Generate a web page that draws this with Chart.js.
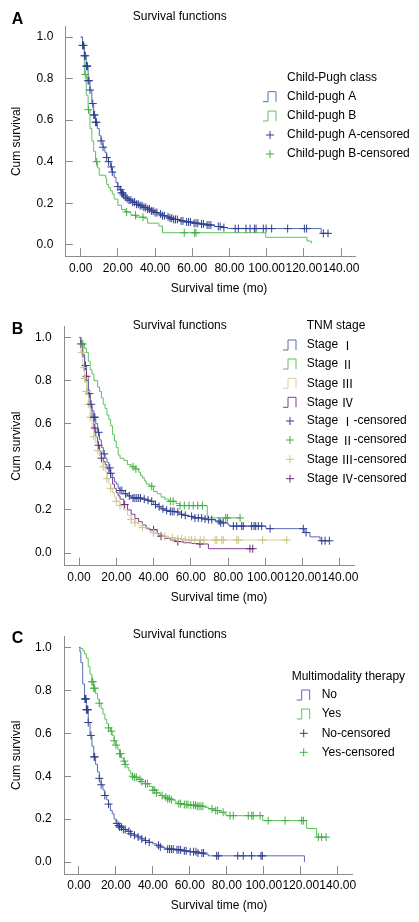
<!DOCTYPE html>
<html><head><meta charset="utf-8">
<script src="https://cdn.jsdelivr.net/npm/chart.js@4.4.1/dist/chart.umd.min.js"></script>
<style>
html,body{margin:0;padding:0;background:#fff;width:419px;height:922px;overflow:hidden}
canvas{position:absolute;left:0}
</style></head><body>
<canvas id="cA" style="top:0px" width="419" height="300"></canvas>
<canvas id="cB" style="top:300px" width="419" height="310"></canvas>
<canvas id="cC" style="top:610px" width="419" height="312"></canvas>
<script>
// ---------- tick values / labels ----------
const xTickValues = [0, 20, 40, 60, 80, 100, 120, 140];
const xTickLabels = ['0.00', '20.00', '40.00', '60.00', '80.00', '100.00', '120.00', '140.00'];
const yTickValues = [0, 0.2, 0.4, 0.6, 0.8, 1.0];
const yTickLabels = ['0.0', '0.2', '0.4', '0.6', '0.8', '1.0'];

// ---------- Panel A: Child-Pugh class ----------
const cpA_time = [0,1,2,3,4,5,6,7,8,9,10,11,12,13,14,15,16,17,18,19,20,21,22,23,24,25,26,28,30,32,34,36,38,40,42,44,46,48,50,53,56,60,64,68,72,76,79,129.3,134];
const cpA_surv = [1,0.96,0.91,0.86,0.79,0.745,0.68,0.625,0.59,0.56,0.525,0.5,0.47,0.445,0.42,0.40,0.375,0.35,0.325,0.30,0.28,0.265,0.25,0.24,0.23,0.222,0.215,0.205,0.195,0.188,0.18,0.172,0.163,0.155,0.148,0.14,0.134,0.128,0.122,0.115,0.11,0.104,0.10,0.095,0.088,0.083,0.078,0.055,0.055];
const cpB_time = [0,1,2,3,4,5,6,7,8,9,10,13.5,14,15,16,17,18,20,22,24,27,30,34,36,42,44,99.5,121.7,124];
const cpB_surv = [1,0.97,0.82,0.72,0.65,0.56,0.50,0.45,0.40,0.37,0.335,0.32,0.29,0.275,0.26,0.245,0.22,0.19,0.17,0.158,0.142,0.133,0.128,0.104,0.09,0.058,0.036,0.018,0.006];
const cpA_censTime = [1,1.5,2,2.5,3,3.3,3.6,4,4.5,5,6.5,7,7.5,8,8.5,11,12,14,15,16.5,17,20,21.5,22,22.5,23,24,25,26,27,28,29,30,31,32,33,34,35,36,37,38,39,40,41,43,44,45,47,48,49,50,51,52,54,55,57,58,59,61,62,63,65,66,68,69,70,74,75,77,83.1,84.8,88.9,91.1,93.4,94.3,98.2,99.7,102.7,111.3,120.3,121.5,130.5,133];
const cpA_censSurv = [0.96,0.96,0.91,0.91,0.86,0.86,0.86,0.79,0.79,0.745,0.68,0.625,0.625,0.59,0.59,0.50,0.47,0.42,0.40,0.375,0.35,0.28,0.265,0.25,0.25,0.24,0.23,0.222,0.215,0.215,0.205,0.205,0.195,0.195,0.188,0.188,0.18,0.18,0.172,0.172,0.163,0.163,0.155,0.155,0.148,0.14,0.14,0.134,0.128,0.128,0.122,0.122,0.122,0.115,0.115,0.11,0.11,0.11,0.104,0.104,0.104,0.10,0.10,0.095,0.095,0.095,0.088,0.088,0.083,0.078,0.078,0.078,0.078,0.078,0.078,0.078,0.078,0.078,0.078,0.078,0.078,0.055,0.055];
const cpB_censTime = [2.5,4.2,8.6,24.7,29.5,33.5,55.7,61.3,62];
const cpB_censSurv = [0.82,0.65,0.40,0.158,0.142,0.133,0.058,0.058,0.058];

// ---------- Panel B: TNM stage ----------
const s1_time = [0,1,2,3,4,5,6,7,8,9,10,11,12,13,14,15,16,17,18,19,20,21,22,24,26,28,34,36,38,40,42,44,46,48,52,54,56,58,61,66,69,73,76,80,81,100.3,120.8,123.9,129.3,134.3];
const s1_surv = [1,0.97,0.91,0.85,0.80,0.74,0.69,0.66,0.63,0.60,0.56,0.525,0.49,0.46,0.44,0.42,0.395,0.37,0.35,0.33,0.32,0.30,0.29,0.275,0.265,0.255,0.25,0.245,0.24,0.225,0.215,0.205,0.198,0.193,0.19,0.18,0.175,0.17,0.163,0.158,0.155,0.148,0.14,0.13,0.125,0.113,0.095,0.075,0.057,0.057];
const s2_time = [0,1,2,3,4,5,6,7,8,10,11,12,13,14,15,16,17,18,19,20,21,22,24,26,28,30,32,33,34,35,36,38,40,42,44,46,48,52,54,68.8,86.5];
const s2_surv = [1,0.98,0.97,0.95,0.93,0.89,0.85,0.83,0.80,0.77,0.75,0.72,0.69,0.67,0.64,0.62,0.59,0.55,0.52,0.49,0.455,0.44,0.43,0.41,0.40,0.39,0.375,0.36,0.35,0.335,0.32,0.31,0.285,0.275,0.26,0.25,0.24,0.23,0.22,0.163,0.163];
const s3_time = [0,1,2,3,4,5,6,7,8,9,10,11,12,13,14,15,16,17,18,19,20,22,24,26,28,30,32,34,36,38,40,42,45,48,52,56,112.3];
const s3_surv = [1,0.93,0.86,0.81,0.75,0.69,0.63,0.575,0.54,0.51,0.475,0.45,0.42,0.40,0.38,0.345,0.32,0.30,0.28,0.26,0.24,0.22,0.20,0.175,0.155,0.14,0.127,0.118,0.11,0.10,0.093,0.085,0.078,0.07,0.066,0.06,0.06];
const s4_time = [0,1,2,3,4,5,6,7,8,9,10,11,12,13,14,15,16,17,18,19,20,21,22,24,26,28,30,32,34,36,38,42,43,46,49,52,56,60,64,69.4,93.5];
const s4_surv = [1,0.97,0.92,0.87,0.82,0.74,0.68,0.63,0.58,0.54,0.50,0.47,0.44,0.425,0.41,0.39,0.37,0.35,0.32,0.30,0.28,0.265,0.25,0.225,0.20,0.18,0.16,0.145,0.13,0.115,0.108,0.09,0.078,0.068,0.06,0.053,0.048,0.044,0.042,0.02,0.02];
const s1_censTime = [6.5,8,8.5,10.5,13.5,16.5,17,22,23,25,27,29,30,31,32,33,35,37,39,41,43,45,47,49,50,51,53,55,57,60.4,62.2,64,65.8,67.6,69.4,71.2,75.1,76,77.4,82.8,84.6,87.3,88.1,92.6,93.9,94.8,96.2,98,102.5,120.3,121.8,130.2,132,134.3];
const s1_censSurv = [0.69,0.63,0.63,0.56,0.46,0.395,0.37,0.29,0.29,0.275,0.265,0.255,0.255,0.255,0.255,0.255,0.25,0.245,0.24,0.225,0.215,0.205,0.198,0.193,0.193,0.193,0.19,0.18,0.175,0.17,0.163,0.163,0.163,0.158,0.155,0.155,0.148,0.14,0.14,0.125,0.125,0.125,0.125,0.125,0.125,0.125,0.125,0.125,0.113,0.113,0.095,0.057,0.057,0.057];
const s2_censTime = [2,29,30.5,39,49,50.5,54.2,56.5,59,61.3,63.7,66.2,78.7,79.6,86.4];
const s2_censSurv = [0.97,0.40,0.39,0.31,0.24,0.24,0.22,0.22,0.22,0.22,0.22,0.22,0.163,0.163,0.163];
const s3_censTime = [1.5,2.5,3,3.5,4,4.5,5,6,8,10,13,15,17,20,22,28,30,34,40,46,50,53,55,57,59,60.4,62.2,65,67,73,73.9,76.6,77.4,84.6,85.5,98.5,111.4];
const s3_censSurv = [0.93,0.86,0.81,0.81,0.75,0.75,0.69,0.63,0.54,0.475,0.40,0.345,0.30,0.24,0.22,0.155,0.14,0.118,0.093,0.078,0.07,0.066,0.066,0.06,0.06,0.06,0.06,0.06,0.06,0.06,0.06,0.06,0.06,0.06,0.06,0.06,0.06];
const s4_censTime = [1,3.5,4,5.5,8.5,10.5,12,24.5,40,44,53,64.9,91.7,93.2];
const s4_censSurv = [0.97,0.87,0.82,0.74,0.58,0.50,0.44,0.225,0.108,0.078,0.053,0.042,0.02,0.02];

// ---------- Panel C: Multimodality therapy ----------
const no_time = [0,0.5,1,2,3,4,5,6,7,8,9,10,11,12,13,14,15,16,17,18,19,20,21,22,24,26,28,30,32,34,36,38,40,42,44,46,48,52,56,60,64,68,70,122];
const no_surv = [1,0.98,0.93,0.83,0.76,0.71,0.65,0.59,0.54,0.49,0.455,0.42,0.39,0.36,0.335,0.31,0.29,0.27,0.24,0.225,0.20,0.18,0.17,0.163,0.152,0.143,0.132,0.125,0.117,0.108,0.10,0.092,0.085,0.078,0.07,0.065,0.06,0.057,0.052,0.048,0.042,0.036,0.029,0];
const yes_time = [0,1,2,3,4,5,6,7,8,9,10,11,12,13,14,15,16,17,18,19,20,21,22,23,24,25,26,27,28,29,30,32,34,36,38,40,42,44,46,48,50,52,54,57,60,64,68,70,73,76,79,80,99.4,123.2,128.6,133.7];
const yes_surv = [1,0.995,0.985,0.97,0.95,0.91,0.875,0.84,0.81,0.785,0.76,0.74,0.715,0.69,0.665,0.645,0.625,0.61,0.59,0.565,0.545,0.525,0.505,0.485,0.47,0.455,0.44,0.425,0.41,0.40,0.395,0.385,0.375,0.365,0.352,0.335,0.322,0.31,0.302,0.295,0.29,0.28,0.272,0.268,0.265,0.26,0.255,0.248,0.24,0.232,0.22,0.216,0.193,0.156,0.116,0.116];
const no_censTime = [3.2,3.5,3.8,4,4.3,4.5,4.8,5,6.5,8.2,8.5,11,12,14,16,20.5,21.5,22,23,24,25,27,28,30,32,34,36,38,43,44,48,49,50,51,53,54,55,57,58,60.2,62,63.3,64.4,66.5,67.4,74.5,75.4,85.9,88.9,93.4,98.5,99.2];
const no_censSurv = [0.76,0.76,0.76,0.71,0.71,0.71,0.71,0.65,0.59,0.49,0.49,0.39,0.36,0.31,0.27,0.18,0.17,0.163,0.163,0.152,0.152,0.143,0.132,0.125,0.117,0.108,0.10,0.092,0.078,0.07,0.06,0.06,0.06,0.06,0.057,0.057,0.057,0.052,0.052,0.048,0.048,0.048,0.042,0.042,0.042,0.029,0.029,0.029,0.029,0.029,0.029,0.029];
const yes_censTime = [7,7.5,8,8.5,11,16,17.5,19,20,22,22.5,24.5,25,29,30,31,33,34,36,37,40,41,42,45,47,48,49,50,54,55,57,58,59,60.5,62,63,64,65,66,67,72,74,75,78,81.7,83.5,91.6,93.5,94.3,98,102.4,111.5,120.5,121.4,129.5,131.3,133.7];
const yes_censSurv = [0.84,0.84,0.81,0.81,0.74,0.625,0.61,0.565,0.545,0.505,0.505,0.47,0.455,0.40,0.395,0.395,0.385,0.375,0.365,0.365,0.335,0.335,0.322,0.31,0.302,0.295,0.295,0.29,0.272,0.272,0.268,0.268,0.268,0.265,0.265,0.265,0.26,0.26,0.26,0.26,0.248,0.24,0.24,0.232,0.216,0.216,0.216,0.216,0.216,0.216,0.193,0.193,0.193,0.193,0.116,0.116,0.116];

// ---------- styles ----------
const C = {
  blue: '#5a6bb4', blueX: '#2f3f90',
  green: '#5cc25c', greenX: '#45ad45',
  beige: '#d6d09c', beigeX: '#cbc48a',
  purple: '#7e3f8e', purpleX: '#6a2c7c',
  axis: '#8c8c8c'
};
const FONT = 'Liberation Sans';
const FS = 12;

function pts(ts, ss) { return ts.map((t, i) => ({ x: t, y: ss[i] })); }
function curve(label, ts, ss, color) {
  return { label, data: pts(ts, ss), borderColor: color, backgroundColor: color, borderWidth: 1,
    stepped: true, pointRadius: 0, fill: false, order: 1 };
}
function cens(label, ts, ss, color) {
  return { label, data: pts(ts, ss), borderColor: color, backgroundColor: color, showLine: false,
    pointStyle: 'cross', pointRadius: 4, pointBorderWidth: 1, order: 0 };
}

function drawLabel(ctx, text, x, y) {
  let cx = x;
  const segs = text.match(/[\u2160-\u216F]+|[^\u2160-\u216F]+/g) || [];
  for (const seg of segs) {
    const roman = /[\u2160-\u216F]/.test(seg);
    ctx.font = roman ? '12px "Noto Sans CJK SC"' : FS + 'px "' + FONT + '"';
    ctx.fillText(seg, cx, y);
    cx += ctx.measureText(seg).width;
  }
}

const decor = {
  id: 'decor',
  afterDraw(chart, args, o) {
    const ctx = chart.ctx;
    ctx.save();
    ctx.fillStyle = '#000';
    ctx.textBaseline = 'middle';
    ctx.textAlign = 'left';
    ctx.font = 'bold 16px "Liberation Sans"';
    ctx.fillText(o.letter, o.letterX, o.letterY);
    ctx.font = FS + 'px "' + FONT + '"';
    ctx.fillText(o.heading, o.headX, o.headY);
    ctx.textAlign = 'center';
    ctx.fillText(o.xTitle, o.xTitleX, o.xTitleY);
    ctx.textAlign = 'left';
    ctx.fillText(o.legendTitle, o.legTitleX, o.legTitleY);
    chart.data.datasets.forEach((ds, i) => {
      const y = o.legY[i];
      const x0 = o.iconX;
      ctx.strokeStyle = ds.borderColor;
      ctx.lineWidth = 1;
      ctx.beginPath();
      if (ds.showLine === false) {
        ctx.moveTo(x0 + 7, y - 4); ctx.lineTo(x0 + 7, y + 4);
        ctx.moveTo(x0 + 3, y); ctx.lineTo(x0 + 11, y);
      } else {
        ctx.moveTo(x0, y + 5); ctx.lineTo(x0 + 5, y + 5); ctx.lineTo(x0 + 5, y - 5);
        ctx.lineTo(x0 + 13, y - 5); ctx.lineTo(x0 + 13, y + 5);
      }
      ctx.stroke();
      ctx.fillStyle = '#000';
      drawLabel(ctx, ds.label, o.legTextX, y);
    });
    ctx.restore();
  }
};

function makeChart(id, datasets, g, d) {
  const canvas = document.getElementById(id);
  const H = canvas.height;
  return new Chart(canvas, {
    type: 'line',
    data: { datasets },
    plugins: [decor],
    options: {
      responsive: false, animation: false, devicePixelRatio: 1,
      layout: { padding: { left: 0, top: g.T, right: 419 - g.R, bottom: 0 } },
      plugins: { legend: { display: false }, tooltip: { enabled: false }, title: { display: false }, decor: d },
      scales: {
        x: {
          type: 'linear', min: g.xMin, max: g.xMax,
          afterBuildTicks: s => { s.ticks = xTickValues.map(v => ({ value: v })); },
          afterFit: s => { s.height = H - g.B; },
          grid: { drawOnChartArea: false, drawTicks: true, tickLength: -8, color: C.axis, lineWidth: 1 },
          border: { display: true, color: C.axis, width: 1 },
          ticks: { autoSkip: false, maxRotation: 0, minRotation: 0, padding: 12.8, color: '#000',
            font: { family: FONT, size: FS }, callback: (v, i) => xTickLabels[i] }
        },
        y: {
          type: 'linear', min: g.yMin, max: g.yMax,
          afterBuildTicks: s => { s.ticks = yTickValues.map(v => ({ value: v })); },
          afterFit: s => { s.width = g.L; },
          grid: { drawOnChartArea: false, drawTicks: true, tickLength: -7, color: C.axis, lineWidth: 1 },
          border: { display: true, color: C.axis, width: 1 },
          ticks: { autoSkip: false, padding: 19.5, color: '#000',
            font: { family: FONT, size: FS }, callback: (v, i) => yTickLabels[i] },
          title: { display: true, text: 'Cum survival', color: '#000', font: { family: FONT, size: FS },
            padding: { top: 9.5, bottom: 0 } }
        }
      }
    }
  });
}

makeChart('cA', [
  curve('Child-pugh A', cpA_time, cpA_surv, C.blue),
  curve('Child-pugh B', cpB_time, cpB_surv, C.green),
  cens('Child-pugh A-censored', cpA_censTime, cpA_censSurv, C.blueX),
  cens('Child-pugh B-censored', cpB_censTime, cpB_censSurv, C.greenX)
], { L: 65.8, R: 355.9, T: 11.2, B: 256.2, xMin: -8, xMax: 148, yMin: -0.055, yMax: 1.05 },
{ letter: 'A', letterX: 11.7, letterY: 20, heading: 'Survival functions', headX: 132.7, headY: 16.7,
  xTitle: 'Survival time (mo)', xTitleX: 219, xTitleY: 289,
  legendTitle: 'Child-Pugh class', legTitleX: 287, legTitleY: 78,
  legY: [96.7, 116, 135, 154], legTextX: 287, iconX: 263 });

makeChart('cB', [
  curve('Stage Ⅰ', s1_time, s1_surv, C.blue),
  curve('Stage Ⅱ', s2_time, s2_surv, C.green),
  curve('Stage Ⅲ', s3_time, s3_surv, C.beige),
  curve('Stage Ⅳ', s4_time, s4_surv, C.purple),
  cens('Stage Ⅰ-censored', s1_censTime, s1_censSurv, C.blueX),
  cens('Stage Ⅱ-censored', s2_censTime, s2_censSurv, C.greenX),
  cens('Stage Ⅲ-censored', s3_censTime, s3_censSurv, C.beigeX),
  cens('Stage Ⅳ-censored', s4_censTime, s4_censSurv, C.purpleX)
], { L: 64.1, R: 354.9, T: 20.6, B: 265.7, xMin: -8, xMax: 148, yMin: -0.0588, yMax: 1.05 },
{ letter: 'B', letterX: 11.7, letterY: 29.3, heading: 'Survival functions', headX: 132.7, headY: 25.7,
  xTitle: 'Survival time (mo)', xTitleX: 219, xTitleY: 297.7,
  legendTitle: 'TNM stage', legTitleX: 306.7, legTitleY: 25.7,
  legY: [45, 64, 83.3, 102.3, 121, 140, 159.3, 178.7], legTextX: 306.7, iconX: 283 });

makeChart('cC', [
  curve('No', no_time, no_surv, C.blue),
  curve('Yes', yes_time, yes_surv, C.green),
  cens('No-censored', no_censTime, no_censSurv, C.blueX),
  cens('Yes-censored', yes_censTime, yes_censSurv, C.greenX)
], { L: 64.2, R: 352.5, T: 19.65, B: 264, xMin: -8, xMax: 148, yMin: -0.0557, yMax: 1.05 },
{ letter: 'C', letterX: 11.7, letterY: 28.3, heading: 'Survival functions', headX: 132.7, headY: 24.3,
  xTitle: 'Survival time (mo)', xTitleX: 219, xTitleY: 296,
  legendTitle: 'Multimodality therapy', legTitleX: 291.7, legTitleY: 66.7,
  legY: [85, 104, 123.3, 142.3], legTextX: 321.7, iconX: 296.7 });
</script>
</body></html>
